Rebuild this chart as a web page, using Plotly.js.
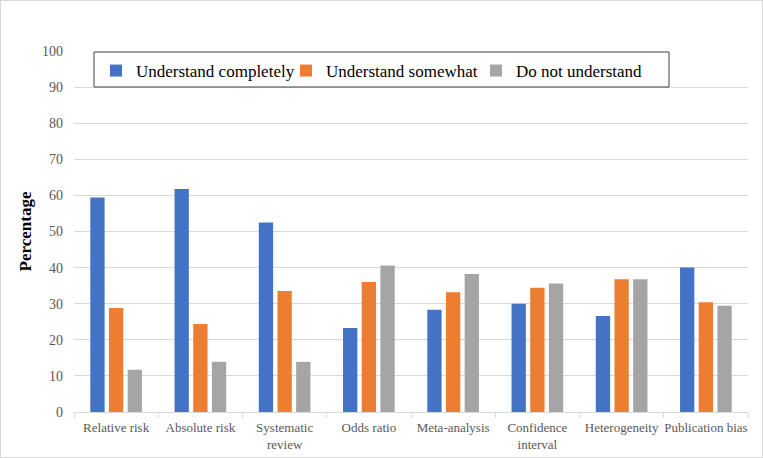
<!DOCTYPE html>
<html>
<head>
<meta charset="utf-8">
<script src="https://cdn.plot.ly/plotly-3.0.1.min.js"></script>
<style>
html,body{margin:0;padding:0;background:#fff;}
#wrap{position:relative;width:763px;height:458px;}
#chart{width:763px;height:458px;}
#frame{position:absolute;left:0;top:0;width:763px;height:458px;box-sizing:border-box;border:1px solid #d9d9d9;pointer-events:none;}
</style>
</head>
<body>
<div id="wrap"><div id="chart"></div><div id="frame"></div></div>
<script>
const categories = ["Relative risk","Absolute risk","Systematic<br>review","Odds ratio","Meta-analysis","Confidence<br>interval","Heterogeneity","Publication bias"];
const seriesNames = ["Understand completely","Understand somewhat","Do not understand"];
const understandCompletely = [59.4, 61.8, 52.5, 23.3, 28.3, 30.0, 26.6, 40.0];
const understandSomewhat   = [28.8, 24.4, 33.5, 36.0, 33.2, 34.4, 36.8, 30.4];
const doNotUnderstand      = [11.7, 13.9, 13.9, 40.6, 38.2, 35.6, 36.8, 29.4];
const yTicks = [0,10,20,30,40,50,60,70,80,90,100];
const colors = ["#4472C4","#ED7D31","#A5A5A5"];

const values = [understandCompletely, understandSomewhat, doNotUnderstand];
const traces = values.map((v,i)=>({
  type:'bar', x:categories, y:v, name:seriesNames[i],
  marker:{color:colors[i]}, hoverinfo:'x+y'
}));

const serif = "Liberation Serif";
const plotL = 74, plotR = 748, plotT = 51, plotB = 412;
const pw = plotR - plotL, ph = plotB - plotT;
const px = v => (v - plotL) / pw;
const py = v => (plotB - v) / ph;

const layout = {
  width:763, height:458,
  margin:{l:plotL, r:763-plotR, t:plotT, b:458-plotB},
  paper_bgcolor:'#ffffff', plot_bgcolor:'#ffffff',
  barmode:'group', bargap:0.335, bargroupgap:0.234,
  font:{family:serif, color:'#595959'},
  showlegend:true,
  legend:{orientation:'h', x:px(96), xanchor:'left', y:py(53), yanchor:'top',
    borderwidth:0, bgcolor:'rgba(0,0,0,0)',
    font:{family:serif, size:17, color:'#000000'},
    entrywidth:145, entrywidthmode:'pixels', traceorder:'normal'},
  shapes:[{type:'rect', xref:'paper', yref:'paper',
    x0:px(94), x1:px(669), y0:py(87), y1:py(52),
    line:{color:'#404040', width:1}, fillcolor:'#ffffff', layer:'above'}],
  xaxis:{type:'category', showgrid:false, showline:true, linecolor:'#d9d9d9', linewidth:1,
    ticks:'outside', tickson:'boundaries', ticklen:5, tickcolor:'#d9d9d9', tickangle:0,
    ticklabelstandoff:3,
    tickfont:{family:serif, size:13, color:'#595959'}, fixedrange:true},
  yaxis:{range:[0,100], tickvals:yTicks, ticktext:yTicks.map(String),
    showgrid:true, gridcolor:'#d9d9d9', gridwidth:1, zeroline:false, showline:false,
    ticks:'', ticklabelstandoff:10,
    tickfont:{family:serif, size:14, color:'#595959'},
    title:{text:'<b>Percentage</b>', font:{family:serif, size:17, color:'#000000'}, standoff:6},
    fixedrange:true}
};
Plotly.newPlot('chart', traces, layout, {displayModeBar:false, staticPlot:true});
</script>
</body>
</html>
